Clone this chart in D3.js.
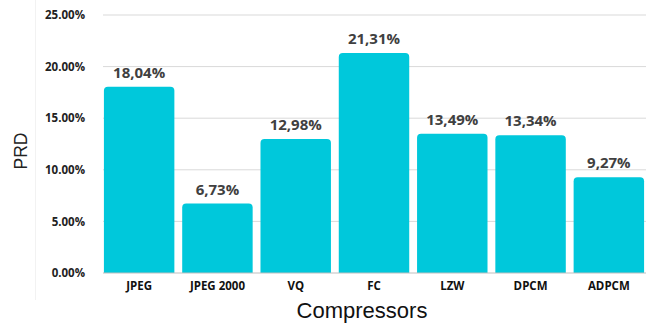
<!DOCTYPE html>
<html>
<head>
<meta charset="utf-8">
<script src="https://cdn.jsdelivr.net/npm/d3@7"></script>
<style>
  html, body { margin: 0; padding: 0; background: #fff; }
  svg { display: block; }
</style>
</head>
<body>
<svg id="chart" width="653" height="327"></svg>
<script>
// PRD per compressor
const categories = ["JPEG", "JPEG 2000", "VQ", "FC", "LZW", "DPCM", "ADPCM"];
const prdValues = [18.04, 6.73, 12.98, 21.31, 13.49, 13.34, 9.27];
const yTicks = [0, 5, 10, 15, 20, 25];

const svg = d3.select("#chart");
const W = 653, H = 327;
const margin = { left: 100, right: 5, top: 15, bottom: 54 };

const x = d3.scaleBand()
  .domain(categories)
  .range([margin.left, W - margin.right])
  .paddingInner(0.1)
  .paddingOuter(0.05);

const y = d3.scaleLinear()
  .domain([0, 25])
  .range([H - margin.bottom, margin.top]);

const fmtTick = d => d.toFixed(2) + "%";
const fmtVal = d => d.toFixed(2).replace(".", ",") + "%";

// faint frame line on the left
svg.append("line")
  .attr("x1", 35.5).attr("x2", 35.5)
  .attr("y1", 0).attr("y2", 300)
  .attr("stroke", "#f2f2f2");

// gridlines
svg.append("g")
  .selectAll("line")
  .data(yTicks.filter(t => t > 0))
  .join("line")
  .attr("x1", margin.left + 3)
  .attr("x2", W - margin.right - 2)
  .attr("y1", d => y(d))
  .attr("y2", d => y(d))
  .attr("stroke", "#d9d9d9")
  .attr("stroke-width", 1);

// y axis labels
const yAxis = svg.append("g")
  .attr("transform", `translate(${margin.left - 12},0)`)
  .call(d3.axisLeft(y).tickValues(yTicks).tickFormat(fmtTick).tickSize(0));
yAxis.select(".domain").remove();
yAxis.selectAll("text")
  .attr("font-family", "'Open Sans', sans-serif")
  .attr("font-weight", "bold")
  .attr("font-size", 11.5)
  .attr("fill", "#222");

// bars with rounded tops
const r = 4;
svg.append("g")
  .selectAll("path")
  .data(categories.map((c, i) => ({ c, v: prdValues[i] })))
  .join("path")
  .attr("fill", "#00C8DB")
  .attr("d", d => {
    const x0 = x(d.c), w = x.bandwidth(), y0 = y(d.v), yb = y(0);
    return `M${x0},${yb}V${y0 + r}Q${x0},${y0} ${x0 + r},${y0}H${x0 + w - r}Q${x0 + w},${y0} ${x0 + w},${y0 + r}V${yb}Z`;
  });

// baseline
svg.append("line")
  .attr("x1", margin.left + 3).attr("x2", W - margin.right - 2)
  .attr("y1", y(0)).attr("y2", y(0))
  .attr("stroke", "#bfbfbf");

// value labels
svg.append("g")
  .selectAll("text")
  .data(categories.map((c, i) => ({ c, v: prdValues[i] })))
  .join("text")
  .attr("x", d => x(d.c) + x.bandwidth() / 2)
  .attr("y", d => y(d.v) - 9)
  .attr("text-anchor", "middle")
  .attr("font-family", "'Open Sans', sans-serif")
  .attr("font-weight", "bold")
  .attr("font-size", 15)
  .attr("fill", "#404040")
  .text(d => fmtVal(d.v));

// category labels
const xAxis = svg.append("g")
  .attr("transform", `translate(0,${y(0)})`)
  .call(d3.axisBottom(x).tickSize(0).tickPadding(9));
xAxis.select(".domain").remove();
xAxis.selectAll("text")
  .attr("font-family", "'Open Sans', sans-serif")
  .attr("font-weight", "bold")
  .attr("font-size", 11.5)
  .attr("fill", "#111");

// axis titles
svg.append("text")
  .attr("x", 362).attr("y", 318)
  .attr("text-anchor", "middle")
  .attr("font-family", "'Liberation Sans', Arial, sans-serif")
  .attr("font-size", 22)
  .attr("fill", "#111")
  .text("Compressors");

svg.append("text")
  .attr("transform", "translate(27,151) rotate(-90)")
  .attr("text-anchor", "middle")
  .attr("font-family", "'Liberation Sans', Arial, sans-serif")
  .attr("font-size", 17.5)
  .attr("fill", "#222")
  .text("PRD");
</script>
</body>
</html>
